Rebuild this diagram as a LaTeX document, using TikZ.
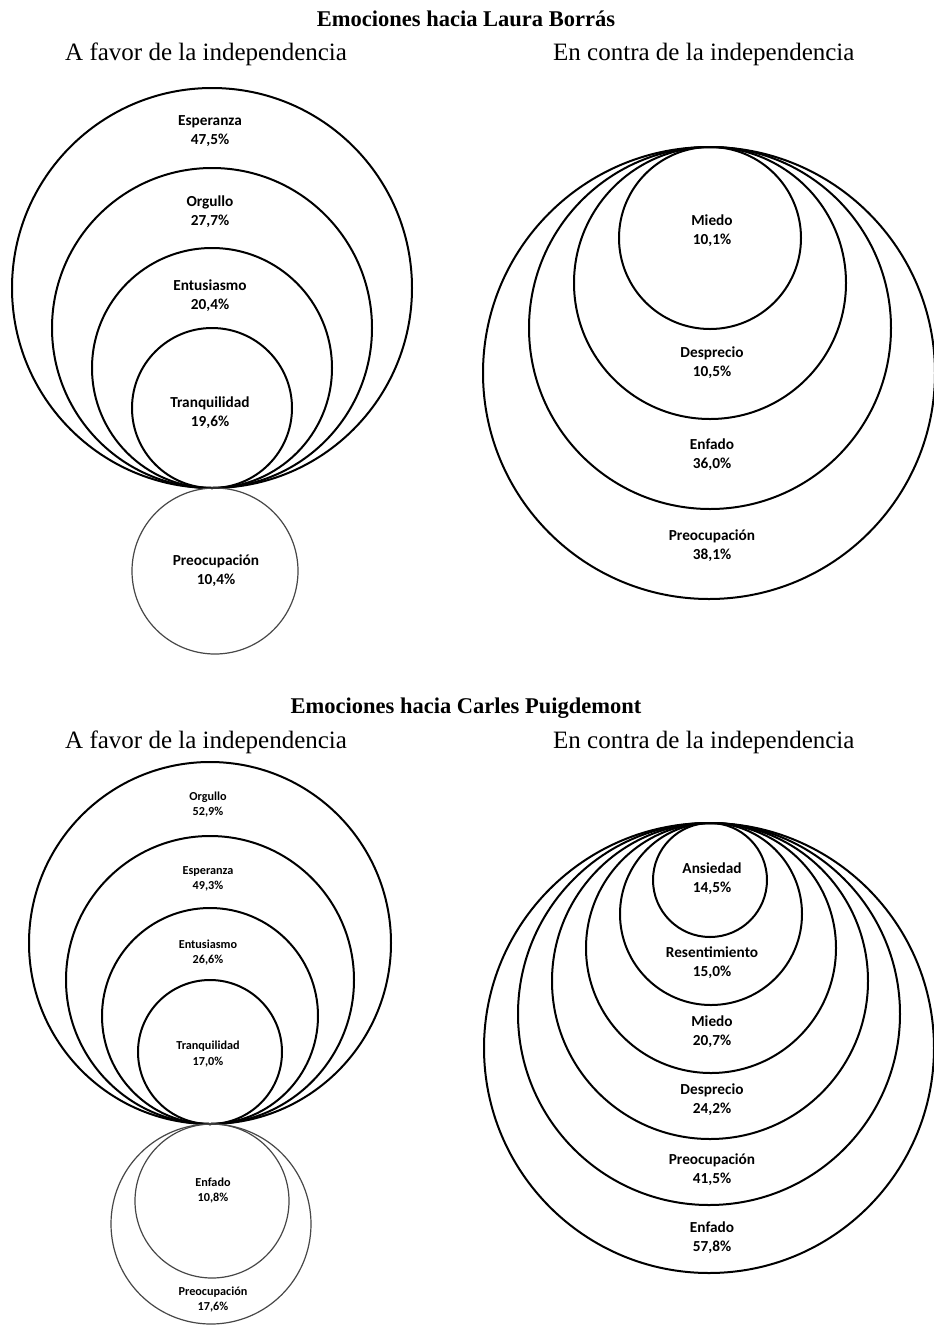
\documentclass[tikz,border=0pt]{standalone}
\usepackage{fontspec}
\setmainfont{Liberation Serif}
\newfontfamily\lblfont{Carlito}
\begin{document}
\begin{tikzpicture}[x=1pt,y=-1pt,
  ring/.style={circle,draw=black,line width=2pt,inner sep=0pt,minimum size=#1},
  faint/.style={circle,draw=black!72,line width=1.2pt,inner sep=0pt,minimum size=#1},
  lbl/.style={align=center,inner sep=0pt,font=\lblfont\bfseries\fontsize{15.3}{19}\selectfont},
  lbls/.style={align=center,inner sep=0pt,font=\lblfont\bfseries\fontsize{12.2}{15.5}\selectfont},
  headline/.style={anchor=base,inner sep=0pt,font=\bfseries\fontsize{22.5}{27}\selectfont},
  side/.style={anchor=base west,inner sep=0pt,font=\fontsize{25}{29}\selectfont}]
\useasboundingbox[fill=white] (0,0) rectangle (934,1326);

% ---------- Laura Borrás ----------
\node[headline] (t1) at (466,26) {Emociones hacia Laura Borrás};
\node[side] (f1) at (65,60) {A favor de la independencia};
\node[side] (c1) at (553,60) {En contra de la independencia};

% in favour: nested circles touching at the bottom
\node[ring=400pt] (lbEsp) at (212,288) {};
\node[ring=320pt] (lbOrg) at (212,328) {};
\node[ring=240pt] (lbEnt) at (212,368) {};
\node[ring=160pt] (lbTra) at (212,408) {};
\node[faint=166pt] (lbPre) at (215,571) {};
\node[lbl] (lbEspT) at (210,131.5) {Esperanza\\47,5\%};
\node[lbl] (lbOrgT) at (210,212) {Orgullo\\27,7\%};
\node[lbl] (lbEntT) at (210,296) {Entusiasmo\\20,4\%};
\node[lbl] (lbTraT) at (210,413) {Tranquilidad\\19,6\%};
\node[lbl] (lbPreT) at (216,571) {Preocupación\\10,4\%};

% against: nested circles touching at the top
\node[ring=452pt] (lcPre) at (709,373) {};
\node[ring=362pt] (lcEnf) at (710,328) {};
\node[ring=272pt] (lcDes) at (710,283) {};
\node[ring=182pt] (lcMie) at (710,238) {};
\node[lbl] (lcMieT) at (712,230.5) {Miedo\\10,1\%};
\node[lbl] (lcDesT) at (712,362.5) {Desprecio\\10,5\%};
\node[lbl] (lcEnfT) at (712,454.5) {Enfado\\36,0\%};
\node[lbl] (lcPreT) at (712,545.5) {Preocupación\\38,1\%};

% ---------- Carles Puigdemont ----------
\node[headline] (t2) at (466,713) {Emociones hacia Carles Puigdemont};
\node[side] (f2) at (65,748) {A favor de la independencia};
\node[side] (c2) at (553,748) {En contra de la independencia};

% in favour
\node[ring=362pt] (cpOrg) at (210,943) {};
\node[ring=288pt] (cpEsp) at (210,980) {};
\node[ring=216pt] (cpEnt) at (210,1016) {};
\node[ring=144pt] (cpTra) at (210,1052) {};
\node[faint=200pt] (cpPre) at (211,1224) {};
\node[faint=154pt] (cpEnf) at (212,1201) {};
\node[lbls] (cpOrgT) at (208,804.5) {Orgullo\\52,9\%};
\node[lbls] (cpEspT) at (208,879) {Esperanza\\49,3\%};
\node[lbls] (cpEntT) at (208,952.5) {Entusiasmo\\26,6\%};
\node[lbls] (cpTraT) at (208,1054) {Tranquilidad\\17,0\%};
\node[lbls] (cpEnfT) at (213,1190.5) {Enfado\\10,8\%};
\node[lbls] (cpPreT) at (213,1299.5) {Preocupación\\17,6\%};

% against
\node[ring=450pt] (ccEnf) at (709,1048) {};
\node[ring=382pt] (ccPre) at (709,1014) {};
\node[ring=316pt] (ccDes) at (710,981) {};
\node[ring=250pt] (ccMie) at (711,948) {};
\node[ring=182pt] (ccRes) at (711,914) {};
\node[ring=114pt] (ccAns) at (710,880) {};
\node[lbl] (ccAnsT) at (712,878.5) {Ansiedad\\14,5\%};
\node[lbl] (ccResT) at (712,962.5) {Resentimiento\\15,0\%};
\node[lbl] (ccMieT) at (712,1031.5) {Miedo\\20,7\%};
\node[lbl] (ccDesT) at (712,1100) {Desprecio\\24,2\%};
\node[lbl] (ccPreT) at (712,1170) {Preocupación\\41,5\%};
\node[lbl] (ccEnfT) at (712,1238) {Enfado\\57,8\%};
\end{tikzpicture}
\end{document}
